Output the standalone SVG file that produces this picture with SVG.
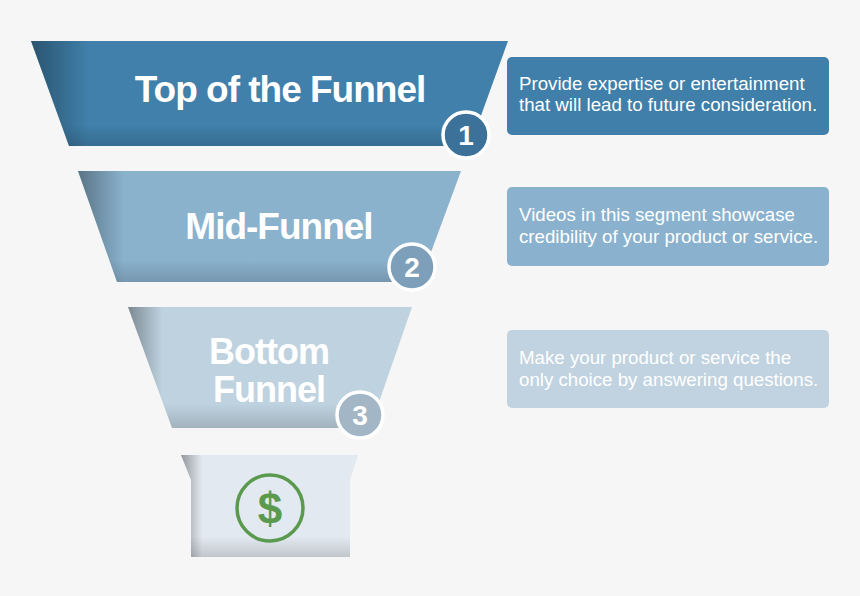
<svg xmlns="http://www.w3.org/2000/svg" width="860" height="596" viewBox="0 0 860 596">
<defs>
<linearGradient id="sh" x1="0" y1="0" x2="1" y2="0">
<stop offset="0" stop-color="#000" stop-opacity="0.35"/>
<stop offset="0.12" stop-color="#000" stop-opacity="0"/>
</linearGradient>
<linearGradient id="sv" x1="0" y1="0" x2="0" y2="1">
<stop offset="0.8" stop-color="#000" stop-opacity="0"/>
<stop offset="1" stop-color="#000" stop-opacity="0.15"/>
</linearGradient>
<style>
.t{font-family:"Liberation Sans",Arial,sans-serif;font-weight:bold;fill:#fff;text-anchor:middle;letter-spacing:-1px}
.d{font-family:"Liberation Sans",Arial,sans-serif;fill:#fff;font-size:18.7px}
.b{stroke:#fff;stroke-width:3.5}
.n{font-family:"Liberation Sans",Arial,sans-serif;font-weight:bold;fill:#fff;text-anchor:middle;font-size:28px}
</style>
</defs>
<rect width="860" height="596" fill="#f6f6f6"/>
<g id="top">
<polygon points="31,41 508,41 470,146 69,146" fill="#4080aa"/>
<polygon points="31,41 508,41 470,146 69,146" fill="url(#sh)"/>
<polygon points="31,41 508,41 470,146 69,146" fill="url(#sv)"/>
<text class="t" x="280" y="102" font-size="37">Top of the Funnel</text>
<circle cx="466" cy="135" r="23" fill="#3c7299" class="b"/>
<text class="n" x="466" y="145">1</text>
</g>
<g id="mid">
<polygon points="78,171 461,171 420,282 117,282" fill="#8ab2cd"/>
<polygon points="78,171 461,171 420,282 117,282" fill="url(#sh)"/>
<polygon points="78,171 461,171 420,282 117,282" fill="url(#sv)"/>
<text class="t" x="279" y="239" font-size="37">Mid-Funnel</text>
<circle cx="412" cy="267" r="23" fill="#7e9fb9" class="b"/>
<text class="n" x="412" y="277">2</text>
</g>
<g id="bottom">
<polygon points="128,307 412,307 370,428 172,428" fill="#bed2df"/>
<polygon points="128,307 412,307 370,428 172,428" fill="url(#sh)"/>
<polygon points="128,307 412,307 370,428 172,428" fill="url(#sv)"/>
<text class="t" x="269" y="364" font-size="36">Bottom</text>
<text class="t" x="269" y="402" font-size="36">Funnel</text>
<circle cx="360" cy="415" r="23" fill="#a3b6c6" class="b"/>
<text class="n" x="360" y="425">3</text>
</g>
<g id="money">
<polygon points="181,455 358,455 350,480 350,557 191,557 191,480" fill="#e2e9f0"/>
<polygon points="181,455 358,455 350,480 350,557 191,557 191,480" fill="url(#sh)"/>
<polygon points="181,455 358,455 350,480 350,557 191,557 191,480" fill="url(#sv)"/>
<circle cx="270" cy="508" r="33" fill="none" stroke="#5a9a4f" stroke-width="3.5"/>
<text x="270" y="524" font-family="Liberation Sans,Arial,sans-serif" font-weight="bold" font-size="44" fill="#5a9a4f" text-anchor="middle">$</text>
</g>
<g id="box1">
<rect x="507" y="57" width="322" height="78" rx="5" fill="#3f7fa9"/>
<text class="d" x="519" y="90">Provide expertise or entertainment</text>
<text class="d" x="519" y="111">that will lead to future consideration.</text>
</g>
<g id="box2">
<rect x="507" y="187" width="322" height="79" rx="5" fill="#8ab2ce"/>
<text class="d" x="519" y="221">Videos in this segment showcase</text>
<text class="d" x="519" y="243">credibility of your product or service.</text>
</g>
<g id="box3">
<rect x="507" y="330" width="322" height="78" rx="5" fill="#c1d3e0"/>
<text class="d" x="519" y="364">Make your product or service the</text>
<text class="d" x="519" y="386">only choice by answering questions.</text>
</g>
<g id="connectors"/>
</svg>
